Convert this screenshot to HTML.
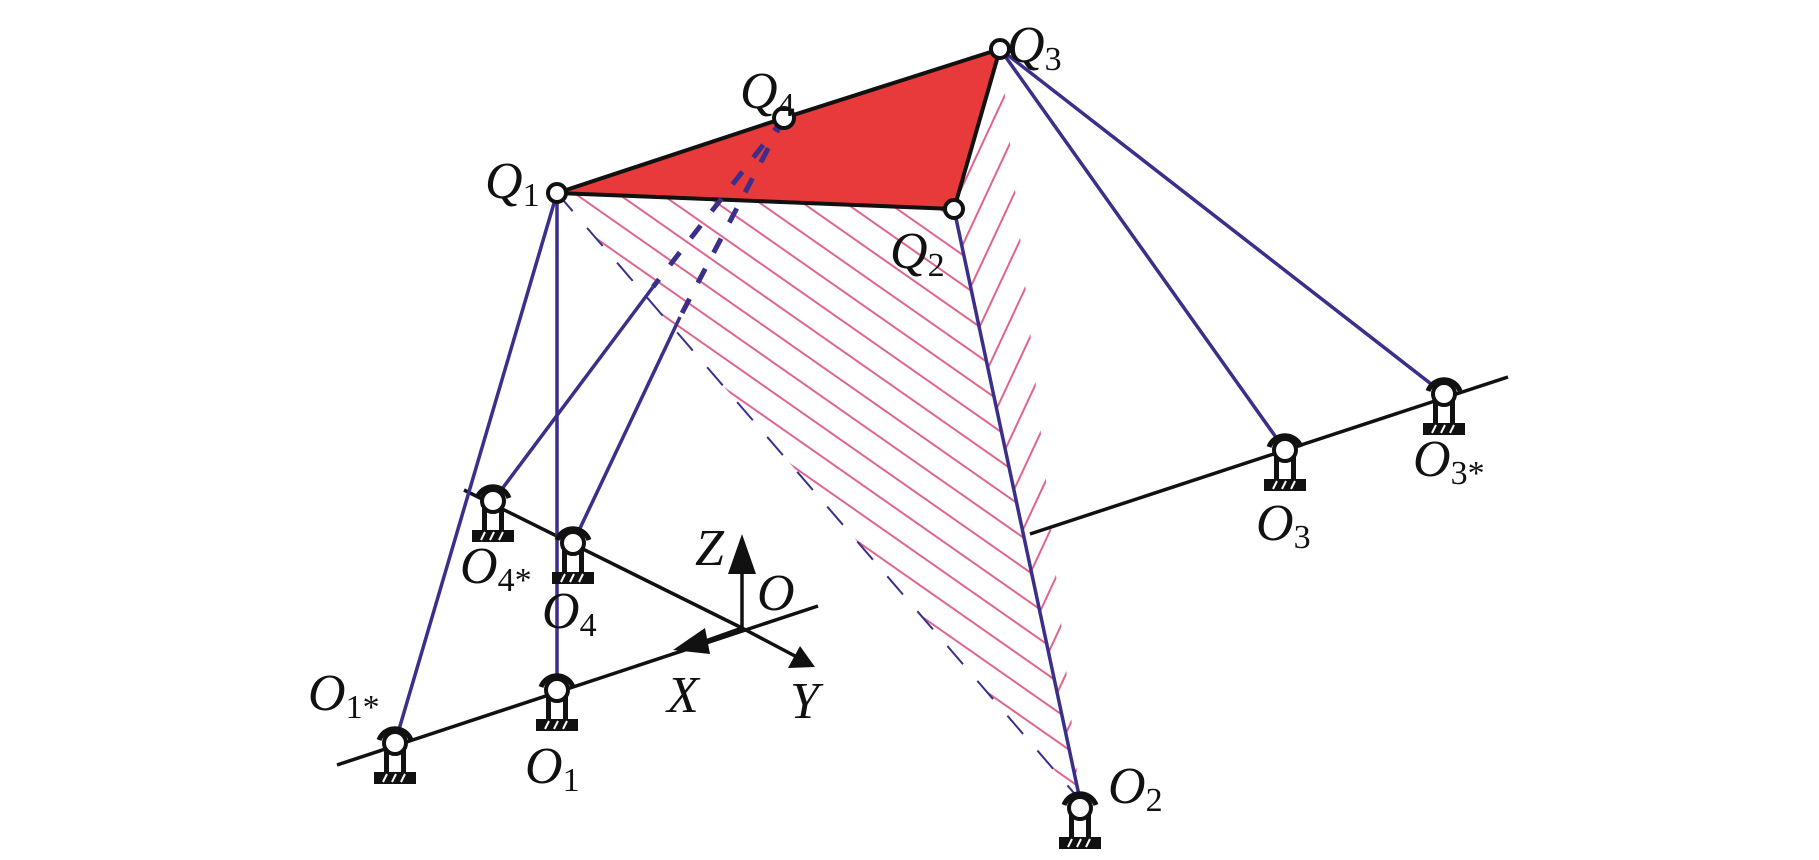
<!DOCTYPE html>
<html><head><meta charset="utf-8"><style>
html,body{margin:0;padding:0;background:#fff;width:1819px;height:860px;overflow:hidden;}
svg{display:block;}
text{font-family:"Liberation Serif",serif;font-style:italic;fill:#111;}
</style></head><body>
<svg width="1819" height="860" viewBox="0 0 1819 860" xmlns="http://www.w3.org/2000/svg">
<defs>
<pattern id="p1" width="20" height="24.6" patternUnits="userSpaceOnUse" patternTransform="rotate(35)">
  <line x1="0" y1="1" x2="20" y2="1" stroke="#e0648c" stroke-width="2"/>
</pattern>
<pattern id="p2" width="20" height="25" patternUnits="userSpaceOnUse" patternTransform="rotate(-65)">
  <line x1="0" y1="1" x2="20" y2="1" stroke="#e0648c" stroke-width="2"/>
</pattern>
<symbol id="j" overflow="visible">
  <path d="M-16,-3 A17,17 0 0 1 16,-3" fill="none" stroke="#111" stroke-width="5"/>
  <rect x="-11" y="6" width="5" height="25" fill="#111"/>
  <rect x="6" y="6" width="5" height="25" fill="#111"/>
  <rect x="-21" y="29" width="42" height="12" fill="#111"/>
  <path d="M-12,39 l4,-8 M-3,39 l4,-8 M6,39 l4,-8" stroke="#fff" stroke-width="2"/>
  <circle r="11" fill="#fff" stroke="#111" stroke-width="4"/>
</symbol>
</defs>

<polygon points="557,193 954,209 1080,800" fill="url(#p1)"/>
<polygon points="954,209 1000,49 1080,800" fill="url(#p2)"/>

<polygon points="557,193 784,118 1000,49 954,209" fill="#e83a3a" stroke="#111" stroke-width="4" stroke-linejoin="round"/>

<g stroke="#111" stroke-width="3.5" fill="none">
  <line x1="337" y1="765" x2="818" y2="606"/>
  <line x1="464" y1="490" x2="742" y2="628"/>
  <line x1="1030" y1="534" x2="1508" y2="377"/>
  <line x1="742" y1="628" x2="742" y2="560"/>
  <line x1="742" y1="628" x2="795" y2="656"/>
  <line x1="742" y1="628" x2="700" y2="643"/>
</g>
<polygon points="742,534 728,574 756,574" fill="#111"/>
<polygon points="815,667 788,668 800,646" fill="#111"/>
<polygon points="673,650 705,628 710,654" fill="#111"/>

<g stroke="#3a2f8a" stroke-width="3.5" fill="none">
  <line x1="557" y1="193" x2="395" y2="743"/>
  <line x1="557" y1="193" x2="557" y2="690"/>
  <line x1="1000" y1="49" x2="1285" y2="450"/>
  <line x1="1000" y1="49" x2="1444" y2="394"/>
  <line x1="954" y1="209" x2="1080" y2="800"/>
  <line x1="653" y1="287" x2="493" y2="501"/>
  <line x1="680" y1="317" x2="573" y2="543"/>
  <line x1="784" y1="118" x2="653" y2="287" stroke-dasharray="16,18" stroke-width="5"/>
  <line x1="784" y1="118" x2="680" y2="317" stroke-dasharray="16,18" stroke-width="5"/>
  <line x1="557" y1="193" x2="1080" y2="800" stroke-width="2" stroke-dasharray="24,22"/>
</g>

<g fill="#fff" stroke="#111" stroke-width="4">
  <circle cx="557" cy="193" r="9"/>
  <circle cx="784" cy="118" r="10"/>
  <circle cx="1000" cy="49" r="9"/>
  <circle cx="954" cy="209" r="9"/>
</g>

<use href="#j" x="395" y="743"/>
<use href="#j" x="557" y="690"/>
<use href="#j" x="493" y="501"/>
<use href="#j" x="573" y="543"/>
<use href="#j" x="1285" y="450"/>
<use href="#j" x="1444" y="394"/>
<use href="#j" x="1080" y="808"/>

<g font-size="52">
<text x="1007" y="62">Q<tspan font-size="34" font-style="normal" dy="8">3</tspan></text>
<text x="740" y="108">Q<tspan font-size="34" font-style="normal" dy="8">4</tspan></text>
<text x="485" y="198">Q<tspan font-size="34" font-style="normal" dy="8">1</tspan></text>
<text x="890" y="268">Q<tspan font-size="34" font-style="normal" dy="8">2</tspan></text>
<text x="308" y="710">O<tspan font-size="34" font-style="normal" dy="8">1*</tspan></text>
<text x="525" y="783">O<tspan font-size="34" font-style="normal" dy="8">1</tspan></text>
<text x="460" y="583">O<tspan font-size="34" font-style="normal" dy="8">4*</tspan></text>
<text x="542" y="628">O<tspan font-size="34" font-style="normal" dy="8">4</tspan></text>
<text x="1256" y="540">O<tspan font-size="34" font-style="normal" dy="8">3</tspan></text>
<text x="1413" y="476">O<tspan font-size="34" font-style="normal" dy="8">3*</tspan></text>
<text x="1108" y="803">O<tspan font-size="34" font-style="normal" dy="8">2</tspan></text>
<text x="695" y="565">Z</text>
<text x="757" y="610">O</text>
<text x="667" y="712">X</text>
<text x="790" y="718">Y</text>
</g>
</svg>
</body></html>
